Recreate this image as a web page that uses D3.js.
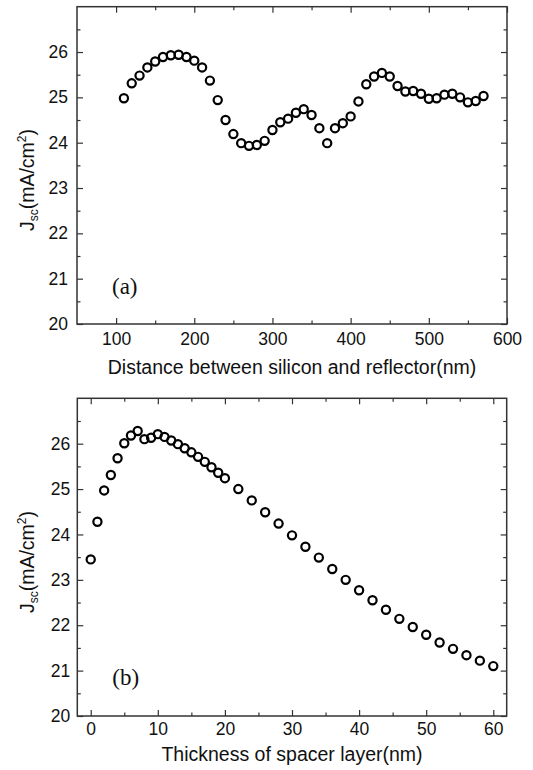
<!DOCTYPE html>
<html>
<head>
<meta charset="utf-8">
<script src="https://cdn.jsdelivr.net/npm/d3@7"></script>
<style>
  body { margin: 0; background: #fff; }
</style>
</head>
<body>
<div id="chart"></div>
<script>
// panel (a): Jsc vs distance between silicon and reflector
const distance = [110, 120, 130, 140, 150, 160, 170, 180, 190, 200,
  210, 220, 230, 240, 250, 260, 270, 280, 290, 300,
  310, 320, 330, 340, 350, 360, 370, 380, 390, 400,
  410, 420, 430, 440, 450, 460, 470, 480, 490, 500,
  510, 520, 530, 540, 550, 560, 570]
const jscA = [24.98, 25.31, 25.48, 25.66, 25.79, 25.89, 25.93, 25.94, 25.89, 25.81,
  25.66, 25.37, 24.94, 24.50, 24.19, 23.99, 23.93, 23.95, 24.04, 24.28,
  24.45, 24.53, 24.66, 24.74, 24.61, 24.32, 23.99, 24.32, 24.43, 24.58,
  24.91, 25.29, 25.46, 25.54, 25.46, 25.25, 25.13, 25.14, 25.08, 24.97,
  24.98, 25.06, 25.08, 25.00, 24.89, 24.92, 25.03]

// panel (b): Jsc vs spacer thickness
const thickness = [0, 1, 2, 3, 4, 5, 6, 7, 8, 9, 10, 11, 12, 13, 14, 15, 16, 17, 18, 19, 20,
  22, 24, 26, 28, 30, 32, 34, 36, 38, 40, 42, 44, 46, 48, 50, 52, 54, 56, 58, 60]
const jscB = [23.45, 24.28, 24.97, 25.31, 25.68, 26.01, 26.18, 26.28, 26.10, 26.13, 26.21,
  26.15, 26.07, 25.99, 25.90, 25.81, 25.71, 25.60, 25.48, 25.36, 25.24,
  25.00, 24.75, 24.49, 24.24, 23.98, 23.73, 23.49, 23.24, 23.00, 22.77,
  22.55, 22.34, 22.14, 21.96, 21.79, 21.62, 21.48, 21.34, 21.22, 21.10]

const yTicks = [20, 21, 22, 23, 24, 25, 26]
const yMinor = [20.5, 21.5, 22.5, 23.5, 24.5, 25.5, 26.5]
const xTicksA = [100, 200, 300, 400, 500, 600]
const xMinorA = [150, 250, 350, 450, 550]
const xTicksB = [0, 10, 20, 30, 40, 50, 60]
const xMinorB = [5, 15, 25, 35, 45, 55]

const width = 533
const height = 770

const svg = d3
  .select('#chart')
  .append('svg')
  .attr('width', width)
  .attr('height', height)

const axisColor = '#333'
const sans = "'Liberation Sans', Arial, sans-serif"

function drawPanel(cfg) {
  const x = d3.scaleLinear().domain(cfg.xDomain).range([cfg.left, cfg.right])
  const y = d3.scaleLinear().domain([20, 27]).range([cfg.bottom, cfg.top])
  const g = svg.append('g')

  // ticks point inward; labels only on bottom/left
  const tickAxis = (axis, pos, ticks, size, labels) => {
    const a = axis
      .tickValues(ticks)
      .tickSize(size)
      .tickPadding(labels ? cfg.pad : 0)
      .tickFormat(labels ? d3.format('d') : '')
    const ag = g.append('g').attr('transform', pos).call(a)
    ag.select('.domain').remove()
    ag.selectAll('line').attr('stroke', axisColor).attr('stroke-width', 1.2)
    ag.selectAll('text')
      .attr('fill', '#111')
      .style('font-family', sans)
      .style('font-size', '17.5px')
    return ag
  }

  tickAxis(d3.axisBottom(x), `translate(0,${cfg.bottom})`, cfg.xTicks, -6, true)
  tickAxis(d3.axisBottom(x), `translate(0,${cfg.bottom})`, cfg.xMinor, -3.5, false)
  tickAxis(d3.axisTop(x), `translate(0,${cfg.top})`, cfg.xTicks, -6, false)
  tickAxis(d3.axisTop(x), `translate(0,${cfg.top})`, cfg.xMinor, -3.5, false)
  tickAxis(d3.axisLeft(y), `translate(${cfg.left},0)`, yTicks, -6, true)
  tickAxis(d3.axisLeft(y), `translate(${cfg.left},0)`, yMinor, -3.5, false)
  tickAxis(d3.axisRight(y), `translate(${cfg.right},0)`, yTicks, -6, false)
  tickAxis(d3.axisRight(y), `translate(${cfg.right},0)`, yMinor, -3.5, false)

  // frame
  g.append('rect')
    .attr('x', cfg.left)
    .attr('y', cfg.top)
    .attr('width', cfg.right - cfg.left)
    .attr('height', cfg.bottom - cfg.top)
    .attr('fill', 'none')
    .attr('stroke', axisColor)
    .attr('stroke-width', 1.5)

  // markers
  g.selectAll('circle.pt')
    .data(cfg.xs)
    .enter()
    .append('circle')
    .attr('class', 'pt')
    .attr('cx', d => x(d))
    .attr('cy', (d, i) => y(cfg.ys[i]))
    .attr('r', 4.1)
    .attr('fill', 'none')
    .attr('stroke', '#000')
    .attr('stroke-width', 2.2)

  // x title
  g.append('text')
    .attr('x', (cfg.left + cfg.right) / 2)
    .attr('y', cfg.titleY)
    .attr('text-anchor', 'middle')
    .attr('fill', '#111')
    .style('font-family', sans)
    .style('font-size', '19.5px')
    .text(cfg.xTitle)

  // y title
  const yt = g.append('text')
    .attr('transform', `translate(34,${cfg.yLabelCenter}) rotate(-90)`)
    .attr('text-anchor', 'middle')
    .attr('fill', '#111')
    .style('font-family', sans)
    .style('font-size', '19.5px')
  yt.append('tspan').text('J')
  yt.append('tspan').style('font-size', '12px').attr('dy', 4).text('sc')
  yt.append('tspan').attr('dy', -4).text('(mA/cm')
  yt.append('tspan').style('font-size', '12px').attr('dy', -8).text('2')
  yt.append('tspan').attr('dy', 8).text(')')

  // panel letter
  g.append('text')
    .attr('x', cfg.left + 35)
    .attr('y', cfg.letterY)
    .attr('fill', '#111')
    .style('font-family', "'Liberation Serif', 'Times New Roman', serif")
    .style('font-size', '23px')
    .text(cfg.letter)
}

drawPanel({
  left: 77, right: 507, top: 6.7, bottom: 324,
  xDomain: [50, 600], xTicks: xTicksA, xMinor: xMinorA,
  xs: distance, ys: jscA, pad: 9,
  xTitle: 'Distance between silicon and reflector(nm)', titleY: 374,
  yLabelCenter: 180, letter: '(a)', letterY: 294
})

drawPanel({
  left: 77.3, right: 506.7, top: 398.3, bottom: 716,
  xDomain: [-2, 62], xTicks: xTicksB, xMinor: xMinorB,
  xs: thickness, ys: jscB, pad: 7,
  xTitle: 'Thickness of spacer layer(nm)', titleY: 761,
  yLabelCenter: 562, letter: '(b)', letterY: 685
})
</script>
</body>
</html>
